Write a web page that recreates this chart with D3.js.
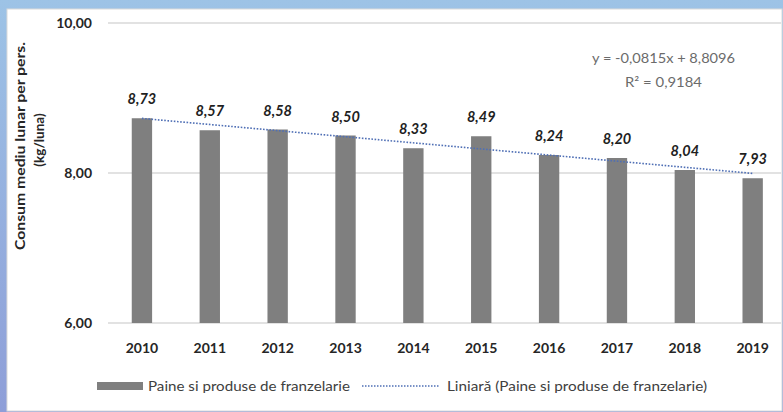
<!DOCTYPE html>
<html><head><meta charset="utf-8">
<script src="https://cdn.jsdelivr.net/npm/d3@7"></script>
<style>body{margin:0;background:#fff}svg{display:block}text{font-family:Lato,"Liberation Sans","DejaVu Sans",sans-serif}</style>
</head><body>
<script>
const years = ["2010","2011","2012","2013","2014","2015","2016","2017","2018","2019"];
const values = [8.73, 8.57, 8.58, 8.50, 8.33, 8.49, 8.24, 8.20, 8.04, 7.93];
const yTicks = [6, 8, 10];
const trendSlope = -0.0815, trendIntercept = 8.8096;
const seriesName = "Paine si produse de franzelarie";
const trendName = "Liniară (Paine si produse de franzelarie)";
const eqText = "y = -0,0815x + 8,8096";
const r2Text = "R² = 0,9184";
const yTitle1 = "Consum mediu lunar  per pers.";
const yTitle2 = "(kg/luna)";

const W = 783, H = 412;
const svg = d3.select("body").append("svg").attr("width", W).attr("height", H);
const defs = svg.append("defs");
const g = defs.append("linearGradient").attr("id","bg").attr("x1",0).attr("y1",0).attr("x2",0).attr("y2",1);
g.append("stop").attr("offset","0%").attr("stop-color","#9dc3e6");
g.append("stop").attr("offset","100%").attr("stop-color","#8e9ed8");
svg.append("rect").attr("width",W).attr("height",H).attr("fill","url(#bg)");
svg.append("rect").attr("x",7).attr("y",9).attr("width",775).attr("height",402).attr("fill","#fff").attr("stroke","#d9d9d9");

const fmt = v => d3.format(".2f")(v).replace(".", ",");
const x = d3.scaleBand().domain(years).range([108, 786.6]).paddingInner(0.7).paddingOuter(0.35);
const y = d3.scaleLinear().domain([6, 10]).range([323, 23]);

// gridlines
svg.append("g").selectAll("line").data(yTicks).join("line")
  .attr("x1",108).attr("x2",781).attr("y1",d=>y(d)).attr("y2",d=>y(d))
  .attr("stroke","#d9d9d9").attr("stroke-width",1.5);

// y axis labels
const yAxis = d3.axisLeft(y).tickValues(yTicks).tickSize(0).tickPadding(0).tickFormat(fmt);
const ya = svg.append("g").attr("transform","translate(92,0)").call(yAxis);
ya.select(".domain").remove();
ya.selectAll("text").attr("font-size",14).attr("font-weight","bold").attr("fill","#262626").attr("dy","0.35em");

// bars
svg.append("g").selectAll("rect").data(values).join("rect")
  .attr("x",(d,i)=>x(years[i]) ).attr("width",x.bandwidth())
  .attr("y",d=>y(d)).attr("height",d=>y(6)-y(d)).attr("fill","#7f7f7f");

// trendline
const tl = d3.line().x(d=>x(years[d-1])+x.bandwidth()/2).y(d=>y(trendIntercept+trendSlope*d));
svg.append("path").attr("d", tl([1,10])).attr("fill","none")
  .attr("stroke","#4f6fb5").attr("stroke-width",1.6).attr("stroke-dasharray","1.6,1.6");

// data labels
svg.append("g").selectAll("text").data(values).join("text")
  .attr("x",(d,i)=>x(years[i])+x.bandwidth()/2).attr("y",d=>y(d)-14)
  .attr("text-anchor","middle").attr("font-size",14.5).attr("font-weight","bold").attr("font-style","italic")
  .attr("fill","#1f1f1f").text(fmt);

// x axis labels
const xAxis = d3.axisBottom(x).tickSize(0).tickPadding(0);
const xa = svg.append("g").attr("transform","translate(0,348)").call(xAxis);
xa.select(".domain").remove();
xa.selectAll("text").attr("font-size",14).attr("font-weight","bold").attr("fill","#262626").attr("dy","0.35em");

// equation
svg.append("text").attr("x",592).attr("y",63).attr("font-size",13.5).attr("fill","#6b6b6b")
  .attr("textLength",143).attr("lengthAdjust","spacingAndGlyphs").text(eqText);
svg.append("text").attr("x",625).attr("y",87).attr("font-size",13.5).attr("fill","#6b6b6b")
  .attr("textLength",77).attr("lengthAdjust","spacingAndGlyphs").text(r2Text);

// y title
const yt = svg.append("g").attr("transform","translate(25,146) rotate(-90)");
yt.append("text").attr("x",-104).attr("font-size",13.5).attr("font-weight","bold").attr("fill","#262626")
  .attr("textLength",208).attr("lengthAdjust","spacingAndGlyphs").text(yTitle1);
yt.append("text").attr("y",19).attr("x",6).attr("text-anchor","middle").attr("font-size",13.5).attr("font-weight","bold").attr("fill","#262626").text(yTitle2);

// legend
svg.append("rect").attr("x",97).attr("y",382).attr("width",46).attr("height",8).attr("fill","#7f7f7f");
svg.append("text").attr("x",148).attr("y",391).attr("font-size",14).attr("fill","#404040")
  .attr("textLength",202).attr("lengthAdjust","spacingAndGlyphs").text(seriesName);
svg.append("line").attr("x1",362).attr("x2",440).attr("y1",386).attr("y2",386)
  .attr("stroke","#4f6fb5").attr("stroke-width",1.4).attr("stroke-dasharray","1.5,1.5");
svg.append("text").attr("x",447).attr("y",391).attr("font-size",14).attr("fill","#404040")
  .attr("textLength",260).attr("lengthAdjust","spacingAndGlyphs").text(trendName);
</script>
</body></html>
